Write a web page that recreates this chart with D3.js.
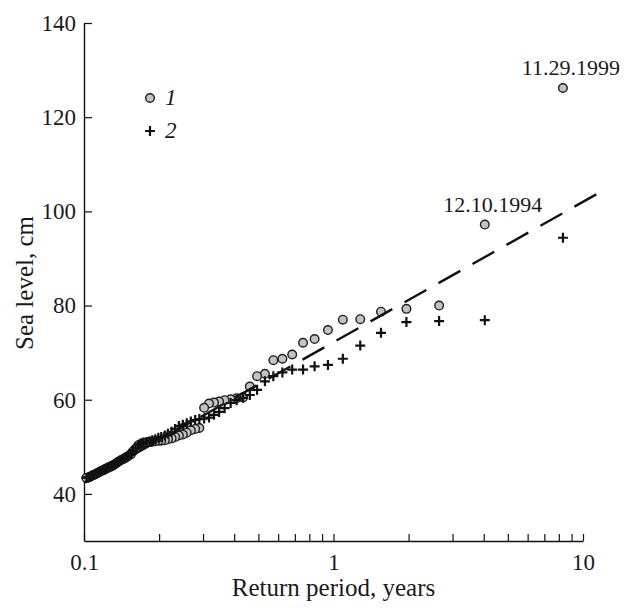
<!DOCTYPE html>
<html>
<head>
<meta charset="utf-8">
<script src="https://cdn.jsdelivr.net/npm/d3@7"></script>
<style>
  body { margin: 0; background: #fff; }
  svg { display: block; }
</style>
</head>
<body>
<svg id="chart"></svg>
<script>
// return period (years), one per rank, shared by both series
var returnPeriod = [8.31, 4.04, 2.65, 1.96, 1.55, 1.28, 1.09, 0.95, 0.84, 0.755,
    0.683, 0.624, 0.574, 0.531, 0.494, 0.462, 0.434, 0.409, 0.387, 0.366,
    0.348, 0.332, 0.317, 0.303, 0.290, 0.279, 0.268, 0.258, 0.249, 0.240,
    0.232, 0.2245, 0.217, 0.2108, 0.204, 0.1986, 0.193, 0.1877, 0.183, 0.178,
    0.173, 0.169, 0.165, 0.161, 0.157, 0.154, 0.150, 0.147, 0.144, 0.141,
    0.138, 0.1354, 0.133, 0.1301, 0.128, 0.1253, 0.123, 0.1208, 0.119, 0.1166,
    0.115, 0.1127, 0.111, 0.109, 0.107, 0.1056, 0.104, 0.1023];

// series 1 (circles), sea level cm
var level1 = [126.2, 97.2, 80.0, 79.3, 78.7, 77.1, 77.0, 74.8, 72.9, 72.1,
    69.6, 68.7, 68.4, 65.5, 65.0, 62.8, 60.5, 60.3, 60.1, 59.9,
    59.6, 59.4, 59.2, 58.3, 54.0, 53.8, 53.5, 53.0, 52.6, 52.4,
    52.1, 51.8, 51.6, 51.4, 51.3, 51.3, 51.2, 51.1, 51.0, 50.9,
    50.8, 50.6, 50.3, 49.6, 49.0, 48.4, 48.0, 47.7, 47.4, 47.2,
    46.9, 46.6, 46.3, 46.0, 45.8, 45.6, 45.4, 45.2, 45.0, 44.8,
    44.6, 44.4, 44.2, 44.0, 43.8, 43.6, 43.5, 43.4];

// series 2 (crosses), sea level cm
var level2 = [94.4, 76.9, 76.7, 76.5, 74.2, 71.5, 68.7, 67.4, 67.1, 66.4,
    66.4, 65.8, 65.0, 63.9, 62.1, 61.0, 60.4, 59.9, 59.3, 58.2,
    57.4, 56.8, 56.2, 56.0, 55.9, 55.7, 55.4, 55.0, 54.7, 54.4,
    53.8, 53.2, 52.8, 52.4, 52.1, 51.9, 51.6, 51.4, 51.2, 51.0,
    50.9, 50.7, 50.4, 49.8, 49.2, 48.5, 48.1, 47.8, 47.5, 47.2,
    46.9, 46.6, 46.3, 46.1, 45.9, 45.6, 45.4, 45.2, 45.0, 44.8,
    44.6, 44.4, 44.2, 44.0, 43.8, 43.6, 43.5, 43.4];

// dashed fit line end points [T, level]
var fitLine = [[11.3, 103.6], [0.1, 42.4]];

// labelled events [rank index, label]
var events = [[0, "11.29.1999"], [1, "12.10.1994"]];

var xTicks = [0.1, 0.2, 0.3, 0.4, 0.5, 0.6, 0.7, 0.8, 0.9, 1, 2, 3, 4, 5, 6, 7, 8, 9, 10];
var xLabels = [0.1, 1, 10];
var yTicks = [40, 60, 80, 100, 120, 140];

var svgWidth = 624, svgHeight = 608;
var serif = "'Liberation Serif', 'Times New Roman', serif";

var svg = d3.select("#chart")
    .attr("width", svgWidth)
    .attr("height", svgHeight);

var x = d3.scaleLog().domain([0.1, 10]).range([84, 583]);
var y = d3.scaleLinear().domain([30, 140]).range([541, 23]);

var pts1 = returnPeriod.map((t, i) => ({ t: t, v: level1[i] }));
var pts2 = returnPeriod.map((t, i) => ({ t: t, v: level2[i] }));

// axes
var xAxis = d3.axisBottom(x)
    .tickValues(xTicks)
    .tickSizeInner(-7)
    .tickSizeOuter(0)
    .tickPadding(13)
    .tickFormat(d => xLabels.includes(d) ? String(d) : "");

var yAxis = d3.axisLeft(y)
    .tickValues(yTicks)
    .tickSizeInner(-8)
    .tickSizeOuter(0)
    .tickPadding(8);

var gx = svg.append("g")
    .attr("transform", "translate(0," + y(30) + ")")
    .call(xAxis);

var gy = svg.append("g")
    .attr("transform", "translate(" + x(0.1) + ",0)")
    .call(yAxis);

svg.selectAll(".domain").attr("stroke", "#111").attr("stroke-width", 1.4);
svg.selectAll(".tick line").attr("stroke", "#111").attr("stroke-width", 1.2);
svg.selectAll(".tick text")
    .attr("font-family", serif)
    .attr("font-size", 23)
    .attr("fill", "#1a1a1a");

// axis titles
svg.append("text")
    .attr("x", (x.range()[0] + x.range()[1]) / 2)
    .attr("y", 596)
    .attr("text-anchor", "middle")
    .attr("font-family", serif)
    .attr("font-size", 25)
    .attr("fill", "#1a1a1a")
    .text("Return period, years");

svg.append("text")
    .attr("transform", "translate(33,283) rotate(-90)")
    .attr("text-anchor", "middle")
    .attr("font-family", serif)
    .attr("font-size", 25)
    .attr("fill", "#1a1a1a")
    .text("Sea level, cm");

// series 1 circles
svg.append("g")
    .selectAll("circle")
    .data(pts1)
    .join("circle")
    .attr("cx", d => x(d.t))
    .attr("cy", d => y(d.v))
    .attr("r", 4.3)
    .attr("fill", "#c3c3c3")
    .attr("stroke", "#1e1e1e")
    .attr("stroke-width", 1.4);

// fit line
svg.append("path")
    .datum(fitLine)
    .attr("d", d3.line().x(d => x(d[0])).y(d => y(d[1])))
    .attr("fill", "none")
    .attr("stroke", "#111")
    .attr("stroke-width", 2.4)
    .attr("stroke-dasharray", "25,14");

// series 2 crosses
var cross = d3.symbol().type(d3.symbolCross).size(1);
svg.append("g")
    .selectAll("path")
    .data(pts2)
    .join("path")
    .attr("d", d => "M" + (x(d.t) - 5) + "," + y(d.v) + "h10M" + x(d.t) + "," + (y(d.v) - 5) + "v10")
    .attr("stroke", "#111")
    .attr("stroke-width", 2.2)
    .attr("fill", "none");

// event labels
svg.append("g")
    .selectAll("text")
    .data(events)
    .join("text")
    .attr("x", d => x(returnPeriod[d[0]]) + 8)
    .attr("y", d => y(level1[d[0]]) - 13)
    .attr("text-anchor", "middle")
    .attr("font-family", serif)
    .attr("font-size", 22)
    .attr("fill", "#1a1a1a")
    .text(d => d[1]);

// legend
var legend = svg.append("g").attr("transform", "translate(150,98)");
legend.append("circle")
    .attr("r", 4.3)
    .attr("fill", "#c3c3c3")
    .attr("stroke", "#1e1e1e")
    .attr("stroke-width", 1.4);
legend.append("text")
    .attr("x", 15).attr("y", 7)
    .attr("font-family", serif).attr("font-style", "italic")
    .attr("font-size", 23).attr("fill", "#1a1a1a")
    .text("1");
legend.append("path")
    .attr("d", "M-5,33h10M0,28v10")
    .attr("stroke", "#111").attr("stroke-width", 2.2);
legend.append("text")
    .attr("x", 15).attr("y", 40)
    .attr("font-family", serif).attr("font-style", "italic")
    .attr("font-size", 23).attr("fill", "#1a1a1a")
    .text("2");
</script>
</body>
</html>
